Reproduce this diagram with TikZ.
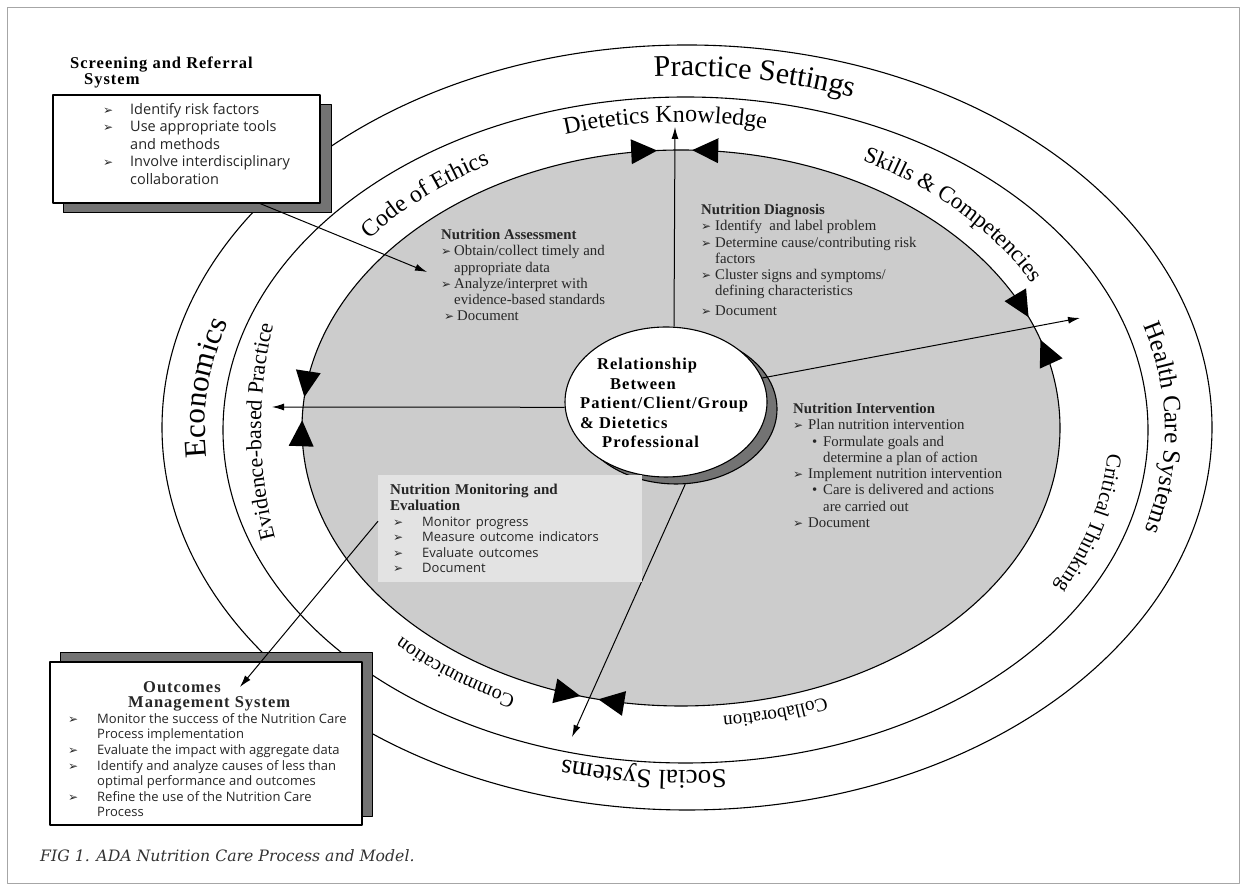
\documentclass[tikz,border=0pt]{standalone}
\usepackage{fontspec}
\setmainfont{Liberation Serif}
\newfontfamily\itemfont{Open Sans}
\newfontfamily\dingfont{DejaVu Sans}
\newfontfamily\capfont{DejaVu Serif}
\usetikzlibrary{shapes.geometric, arrows.meta, decorations.text, positioning}

\newcommand\bul{{\dingfont\fontsize{12}{12}\selectfont ➢}}
\newcommand\itm[1]{\makebox[#1][l]{\bul}}
\newcommand\spaced{\addfontfeatures{LetterSpace=6}}
\newcommand\monitem[1]{{\itemfont\fontsize{13}{15.6}\selectfont #1}}
\newcommand\otitle[1]{{\rmfamily\bfseries\fontsize{16.5}{15.6}\selectfont\spaced #1}}

% text set along a clockwise elliptic arc: rx, ry, mid angle, size, text
\newcommand\ringlabel[5]{%
  \path[decorate, decoration={text along path, text align=center,
      text={|\fontsize{#4}{#4}\selectfont|#5}}]
    ({#3+35}:#1 and #2) arc[start angle={#3+35}, end angle={#3-35},
      x radius=#1, y radius=#2];}

\begin{document}
\begin{tikzpicture}[x=1pt, y=1pt, line join=round,
    ring/.style={draw, line width=1.1pt},
    ray/.style={line width=1pt, -{Latex[length=12pt, width=7pt]}},
    hub/.style={draw, ellipse, line width=1.1pt, minimum width=202pt, minimum height=150pt, inner sep=0pt},
    panel/.style={draw, line width=1.1pt, fill=white, inner sep=0pt},
    shade/.style={draw, line width=1pt, fill=black!55, inner sep=0pt},
    body/.style={anchor=north west, align=left, inner sep=0pt, text=black!85, font=\fontsize{14.8}{16.3}\selectfont},
    flag/.pic={\fill (0,0) -- (-26,12.5) -- (-26,-12.5) -- cycle;}]
  \useasboundingbox (0,0) rectangle (1246,890);
  \draw[black!35, line width=0.8pt] (7,7) rectangle (1239,883);

  % rings
  \draw[ring] (687,462.5) ellipse [x radius=525, y radius=382.5];
  \draw[ring] (685.5,460) ellipse [x radius=462.5, y radius=333];
  \draw[ring, fill=gray!40] (681,462) ellipse [x radius=379, y radius=278];

  % outer ring
  \begin{scope}[shift={(685.5,460)}]
    \ringlabel{483.5}{354}{81.1}{30}{Practice Settings}
    \ringlabel{480.5}{351}{174}{31}{Economics}
    \ringlabel{479.5}{350}{0.3}{25}{Health Care Systems}
    \ringlabel{470.5}{341}{-95.5}{27}{Social Systems}
  \end{scope}

  % inner ring
  \begin{scope}[shift={(681,462)}]
    \ringlabel{407}{306}{92.4}{24}{Dietetics Knowledge}
    \ringlabel{401}{300}{132}{24}{Code of Ethics}
    \ringlabel{401}{300}{44}{23}{Skills {\&} Competencies}
    \ringlabel{420}{430}{180.5}{22}{Evidence-based Practice}
    \ringlabel{428}{327}{-15.4}{21}{Critical Thinking}
    \ringlabel{391}{290}{-75}{19}{Collaboration}
    \ringlabel{396}{295}{-127}{20}{Communication}
    \foreach \t/\s in {93.6/-1, 88.3/1, 173.6/1, 178.4/-1, 23.5/-1, 18.5/1, -105.4/1, -102.6/-1} {
      \pgfmathsetmacro\rot{atan2(\s*278*cos(\t), -\s*379*sin(\t))}
      \pic[rotate=\rot] at (\t:379 and 278) {flag};
    }
  \end{scope}

  % centre
  \node[hub, fill=black!55] (relshade) at (676,481) {};
  \node[hub, fill=white] (rel) at (666,488) {};
  \node[anchor=north west, align=left, inner sep=0pt, font=\bfseries\fontsize{16.5}{19.5}\selectfont\spaced] (reltext) at (580,532)
    {\hspace*{17pt}Relationship\\\hspace*{30pt}Between\\Patient/Client/Group\\\& Dietetics\\\hspace*{22pt}Professional};

  \coordinate (dkTip) at (675,763);
  \coordinate (ctTip) at (1080,572);
  \coordinate (ebTip) at (272,483);
  \coordinate (cmTip) at (572,153);
  \draw[ray] ([xshift=8pt]rel.north) -- (dkTip);
  \draw[ray] (rel.14) -- (ctTip);
  \draw[ray] (rel.183) -- (ebTip);
  \draw[ray] (relshade.-83) -- (cmTip);

  % steps
  \node[body] (assess) at (441,661) {\textbf{Nutrition Assessment}\\
    \itm{13pt}Obtain/collect timely and\\
    \hspace*{13pt}appropriate data\\
    \itm{13pt}Analyze/interpret with\\
    \hspace*{13pt}evidence-based standards\\
    \hspace*{3pt}\itm{13pt}Document};
  \node[body] (diag) at (701,686) {\textbf{Nutrition Diagnosis}\\
    \itm{14pt}Identify\ \ and label problem\\
    \itm{14pt}Determine cause/contributing risk\\
    \hspace*{14pt}factors\\
    \itm{14pt}Cluster signs and symptoms/\\
    \hspace*{14pt}defining characteristics\\[3pt]
    \itm{14pt}Document};
  \node[body] (interv) at (793,487) {\textbf{Nutrition Intervention}\\
    \itm{15pt}Plan nutrition intervention\\
    \hspace*{19pt}\makebox[11pt][l]{•}Formulate goals and\\
    \hspace*{30pt}determine a plan of action\\
    \itm{15pt}Implement nutrition intervention\\
    \hspace*{19pt}\makebox[11pt][l]{•}Care is delivered and actions\\
    \hspace*{30pt}are carried out\\
    \itm{15pt}Document};
  \node[anchor=north west, fill=gray!22, inner xsep=12pt, inner ysep=0pt, text width=240pt, minimum height=107pt,
      align=left, text=black!85, font=\fontsize{15}{15.6}\selectfont] (mon) at (378,415)
    {\textbf{Nutrition Monitoring and}\\
     \textbf{Evaluation}\\
     \monitem{\hspace*{3pt}\itm{29pt}Monitor progress}\\
     \monitem{\hspace*{3pt}\itm{29pt}Measure outcome indicators}\\
     \monitem{\hspace*{3pt}\itm{29pt}Evaluate outcomes}\\
     \monitem{\hspace*{3pt}\itm{29pt}Document}};

  % screening and referral
  \node[shade, minimum width=268pt, minimum height=108pt] (screenshade) at (197,731) {};
  \node[panel, minimum width=267pt, minimum height=108pt] (screen) at (186.5,741) {};
  \node[anchor=north west, align=left, inner sep=0pt, font=\bfseries\fontsize{16.5}{13.5}\selectfont\spaced] (screentitle) at (70,833)
    {Screening and Referral\\\hspace*{14pt}System};
  \node[anchor=north west, align=left, inner sep=0pt, text=black!85, font=\itemfont\fontsize{14.5}{17.5}\selectfont] (screentext) at (103,787)
    {\itm{27pt}Identify risk factors\\
     \itm{27pt}Use appropriate tools\\
     \hspace*{27pt}and methods\\
     \itm{27pt}Involve interdisciplinary\\
     \hspace*{27pt}collaboration};

  % outcomes management
  \node[shade, minimum width=312pt, minimum height=164pt] (outshade) at (216,155) {};
  \node[panel, minimum width=312pt, minimum height=163pt] (outbox) at (206,146.5) {};
  \node[anchor=north west, align=left, inner sep=0pt, text=black!85, font=\itemfont\fontsize{13}{15.6}\selectfont] (outtext) at (62,209)
    {\hspace*{81pt}\otitle{Outcomes}\\
     \hspace*{66pt}\otitle{Management System}\\
     \hspace*{6pt}\itm{29pt}Monitor the success of the Nutrition Care\\
     \hspace*{35pt}Process implementation\\
     \hspace*{6pt}\itm{29pt}Evaluate the impact with aggregate data\\
     \hspace*{6pt}\itm{29pt}Identify and analyze causes of less than\\
     \hspace*{35pt}optimal performance and outcomes\\
     \hspace*{6pt}\itm{29pt}Refine the use of the Nutrition Care\\
     \hspace*{35pt}Process};

  \coordinate (naTip) at (427,618);
  \coordinate (omTip) at (240,203);
  \draw[ray] ([xshift=73.5pt]screen.south) -- (naTip);
  \draw[ray] ([yshift=7.5pt]mon.west) -- (omTip);

  \node[anchor=base west, inner sep=0pt, text=black!80, font=\capfont\itshape\fontsize{15.7}{15.7}\selectfont] (caption) at (40,28)
    {FIG 1. ADA Nutrition Care Process and Model.};
\end{tikzpicture}
\end{document}
